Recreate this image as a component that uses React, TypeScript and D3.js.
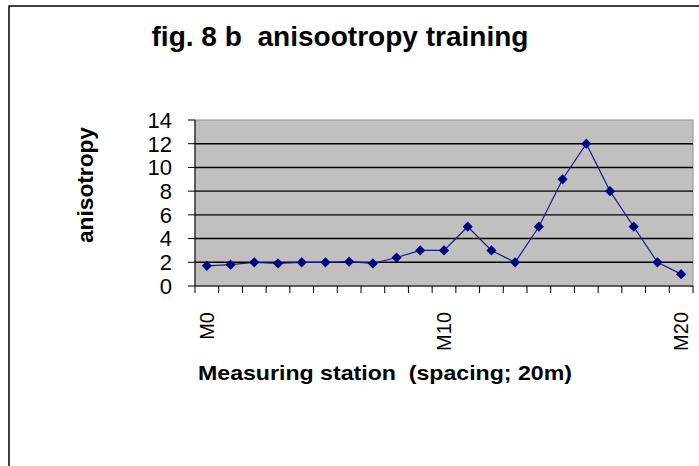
import React from "react";
import * as d3 from "d3";

const stations = d3.range(21).map((i) => `M${i}`);
const anisotropy = [1.7, 1.8, 2.0, 1.9, 2.0, 2.0, 2.05, 1.9, 2.4, 3.0, 3.0, 5.0, 3.0, 2.0, 5.0, 9.0, 12.0, 8.0, 5.0, 2.0, 1.0];
const yTicks = [0, 2, 4, 6, 8, 10, 12, 14];
const xLabels = ["M0", "M10", "M20"];

const W = 699;
const H = 466;
const plot = { left: 195, right: 693, top: 120, bottom: 286 };

export default function App() {
  const x = d3.scaleBand<string>().domain(stations).range([plot.left, plot.right]).padding(0);
  const y = d3.scaleLinear().domain([0, 14]).range([plot.bottom, plot.top]);
  const cx = (s: string) => (x(s) as number) + x.bandwidth() / 2;
  const line = d3
    .line<number>()
    .x((_, i) => cx(stations[i]))
    .y((d) => y(d));
  const diamond = d3.symbol(d3.symbolSquare, 52)() as string;
  const font = "Liberation Sans, Arial, sans-serif";

  return (
    <svg
      width={W}
      height={H}
      style={{ position: "absolute", left: 0, top: 0, background: "#fff" }}
      fontFamily={font}
    >
      <rect x={9} y={6} width={720} height={500} fill="#fff" stroke="#000" strokeWidth={1.5} />
      <text x={340} y={46} textAnchor="middle" fontSize={28} fontWeight="bold" fill="#000" textLength={377} lengthAdjust="spacingAndGlyphs">
        {"fig. 8 b\u00A0 anisootropy training"}
      </text>
      <rect
        x={plot.left}
        y={plot.top}
        width={plot.right - plot.left}
        height={plot.bottom - plot.top}
        fill="#c0c0c0"
        stroke="#909090"
        strokeWidth={1}
      />
      {yTicks.slice(1, -1).map((t) => (
        <line key={t} x1={plot.left} x2={plot.right} y1={y(t)} y2={y(t)} stroke="#000" strokeWidth={1.4} />
      ))}
      {/* y axis */}
      <line x1={plot.left} x2={plot.left} y1={plot.top} y2={plot.bottom} stroke="#000" />
      {yTicks.map((t) => (
        <g key={t}>
          <line x1={plot.left - 7} x2={plot.left} y1={y(t)} y2={y(t)} stroke="#000" />
          <text x={172} y={y(t)} dy="0.36em" textAnchor="end" fontSize={22} fill="#000">
            {t}
          </text>
        </g>
      ))}
      {/* x axis */}
      <line x1={plot.left} x2={plot.right} y1={plot.bottom} y2={plot.bottom} stroke="#000" />
      {stations.concat(["end"]).map((s, i) => {
        const xx = i < stations.length ? (x(s) as number) : plot.right;
        return <line key={i} x1={xx} x2={xx} y1={plot.bottom} y2={plot.bottom + 7} stroke="#000" />;
      })}
      {xLabels.map((s) => (
        <text
          key={s}
          transform={`translate(${cx(s)},${plot.bottom + 26}) rotate(-90)`}
          dy="0.36em"
          textAnchor="end"
          fontSize={20}
          fill="#000"
        >
          {s}
        </text>
      ))}
      <path d={line(anisotropy) as string} fill="none" stroke="#1a1a8c" strokeWidth={1.2} />
      {anisotropy.map((v, i) => (
        <path
          key={i}
          d={diamond}
          transform={`translate(${cx(stations[i])},${y(v)}) rotate(45)`}
          fill="#000080"
        />
      ))}
      <text
        transform={`translate(93,185) rotate(-90)`}
        textAnchor="middle"
        fontSize={22}
        fontWeight="bold"
        fill="#000"
        textLength={116}
        lengthAdjust="spacingAndGlyphs"
      >
        anisotropy
      </text>
      <text
        x={385}
        y={380}
        textAnchor="middle"
        fontSize={21}
        fontWeight="bold"
        fill="#000"
        textLength={374}
        lengthAdjust="spacingAndGlyphs"
      >
        {"Measuring station\u00A0 (spacing; 20m)"}
      </text>
    </svg>
  );
}
